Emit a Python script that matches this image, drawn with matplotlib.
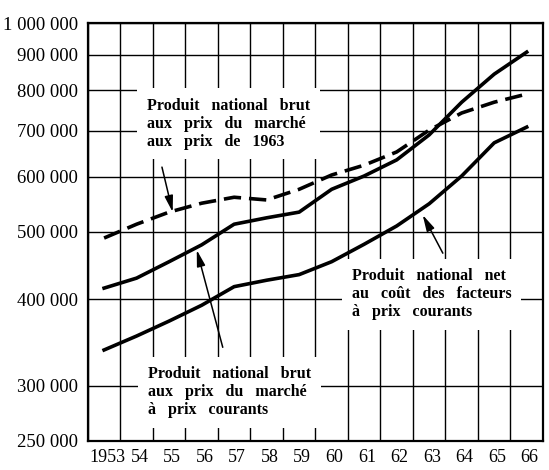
import matplotlib.pyplot as plt
import matplotlib.ticker as mticker
import matplotlib.transforms as mtransforms

# years and series (log scale)
years = [1953, 1954, 1955, 1956, 1957, 1958, 1959, 1960, 1961, 1962, 1963, 1964, 1965, 1966]
pnb_1963 = [490000, 513000, 534000, 550000, 561000, 556000, 576000, 604000, 624000, 652000, 701000, 742000, 769000, 790000]
pnb_courants = [415000, 429000, 453000, 479000, 513000, 524000, 534000, 576000, 602000, 635000, 690000, 769000, 844000, 908000]
pnn_facteurs = [338000, 354000, 372000, 392000, 417000, 426000, 434000, 453000, 480000, 510000, 549000, 602000, 672000, 708000]

x_labels = ['1953', '54', '55', '56', '57', '58', '59', '60', '61', '62', '63', '64', '65', '66']
y_ticks = [250000, 300000, 400000, 500000, 600000, 700000, 800000, 900000, 1000000]
y_labels = ['250 000', '300 000', '400 000', '500 000', '600 000', '700 000', '800 000', '900 000', '1 000 000']

plt.rcParams['font.family'] = ['Liberation Serif', 'DejaVu Serif']

fig = plt.figure(figsize=(5.49, 4.70), dpi=100)
ax = fig.add_axes([0.160, 0.062, 0.829, 0.889])

ax.set_yscale('log')
ax.set_ylim(250000, 1000000)
ax.set_xlim(1952.5, 1966.5)

# grid: vertical lines between years, horizontal at each tick
for gx in range(14):
    ax.axvline(1952.5 + gx, color='black', lw=1.0, zorder=1)
for gy in y_ticks[1:]:
    ax.axhline(gy, color='black', lw=1.0, zorder=1)

ax.yaxis.set_major_locator(mticker.FixedLocator(y_ticks))
ax.yaxis.set_major_formatter(mticker.FixedFormatter(y_labels))
ax.yaxis.set_minor_locator(mticker.NullLocator())
ax.set_xticks(years)
ax.set_xticklabels(x_labels)
ax.tick_params(length=0, labelsize=13.5)
ax.tick_params(axis='x', pad=6, labelsize=13)
ax.tick_params(axis='y', pad=7)
shift = mtransforms.ScaledTranslation(3 / 100, 0, fig.dpi_scale_trans)
for lab in ax.get_xticklabels():
    lab.set_transform(lab.get_transform() + shift)
for s in ax.spines.values():
    s.set_linewidth(1.6)

ax.plot(years, pnb_1963, color='black', lw=2.6, dashes=(4.8, 2.2), zorder=3)
ax.plot(years, pnb_courants, color='black', lw=2.6, zorder=3)
ax.plot(years, pnn_facteurs, color='black', lw=2.6, zorder=3)

box = dict(fc='white', ec='none', pad=7)
tkw = dict(fontsize=11.5, fontweight='bold', ha='left', va='top', linespacing=1.15, zorder=4, bbox=box)
ax.text(1954.32, 780000, 'Produit   national   brut\naux   prix   du   marché\naux   prix   de   1963', **tkw)
ax.text(1954.35, 320000, 'Produit   national   brut\naux   prix   du   marché\nà   prix   courants', **tkw)
ax.text(1960.62, 443000, 'Produit   national   net\nau   coût   des   facteurs\nà   prix   courants', **tkw)

akw = dict(arrowstyle='-|>,head_width=0.18,head_length=0.7', color='black', lw=1.1,
           mutation_scale=14, shrinkA=0, shrinkB=0)
ax.annotate('', xy=(1955.11, 534000), xytext=(1954.78, 620000), arrowprops=akw, zorder=5)
ax.annotate('', xy=(1955.85, 471000), xytext=(1956.65, 341000), arrowprops=akw, zorder=5)
ax.annotate('', xy=(1962.80, 529000), xytext=(1963.42, 466000), arrowprops=akw, zorder=5)

plt.savefig('out.png', dpi=100)
